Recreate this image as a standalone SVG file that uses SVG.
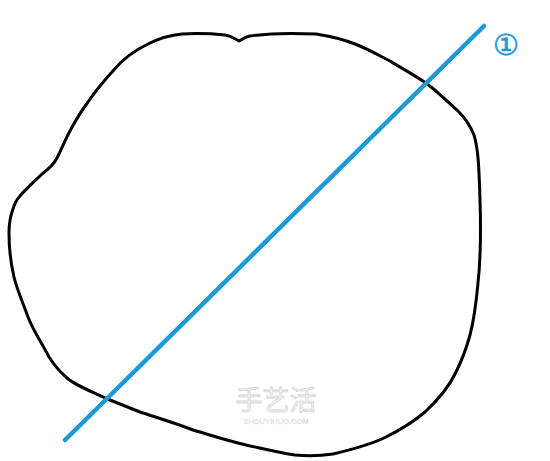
<svg xmlns="http://www.w3.org/2000/svg" width="550" height="461" viewBox="0 0 550 461">
<style>
.blob{fill:none;stroke:#000;stroke-width:3;stroke-linejoin:round;stroke-linecap:round}
.cut{stroke:#1a9ad6;stroke-width:4.5;stroke-linecap:round}
.wm{font-family:"Noto Sans CJK SC","Liberation Sans",sans-serif;fill:#f4f4f4;stroke:#d6d6d6;stroke-width:0.8}
</style>
<rect width="550" height="461" fill="#fff"/>
<g id="shape">
<path class="blob" d="M182,34 C200,33 215,34 225,35 C232,36 235,39 239,41 C242,40 244,37 250,36 C270,33 295,33 316,34 C335,37 345,40 355,44 C370,50 378,55 388,60 C400,67 414,75 426,83 C438,92 448,102 458,111 C465,118 470,125 474,135 C478,148 479,165 480,200 C481,230 481,255 478,283 C476,305 474,320 470,335 C466,350 462,360 456,372 C450,385 440,398 425,412 C412,423 400,430 386,437 C370,445 350,450 333,454 C320,456 305,456 295,455 C275,452 260,448 246,445 C225,440 210,435 193,430 C175,423 158,418 140,412 C125,406 115,402 105,398 C88,390 75,385 67,378 C58,370 54,365 49,357 C40,340 33,330 28,317 C22,300 17,290 14,277 C10,260 9,245 9,233 C9,222 10,218 12,212 C14,205 16,200 20,196 C28,187 36,180 42,174 C50,168 54,164 57,158 C62,148 66,138 71,129 C77,118 82,110 88,102 C96,90 103,82 112,72 C122,60 135,50 148,44 C160,38 170,35 182,34 Z"/>
</g>
<g id="connectors">
<line class="cut" x1="65" y1="440" x2="484" y2="26"/>
</g>
<g id="label">
<text x="506" y="55" font-family="DejaVu Sans, sans-serif" font-size="29" fill="#1a9ad6" stroke="#1a9ad6" stroke-width="0.6" text-anchor="middle">①</text>
</g>
<g id="watermark">
<text class="wm" x="276" y="410" font-size="27" text-anchor="middle">手艺活</text>
<text x="276" y="424" font-family="Liberation Sans, sans-serif" font-size="7.5" fill="#f2f2f2" stroke="#d8d8d8" stroke-width="0.3" text-anchor="middle">SHOUYIHUO.COM</text>
</g>
</svg>
